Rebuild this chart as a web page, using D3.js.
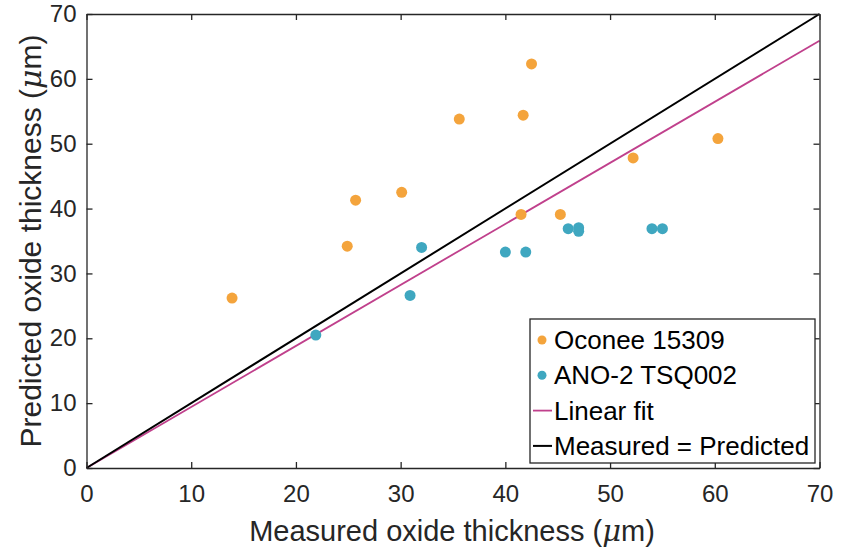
<!DOCTYPE html>
<html>
  <head>
    <meta charset="utf-8">
    <title>Oxide thickness</title>
    <script src="https://cdn.jsdelivr.net/npm/d3@7"></script>
    <style>
      body { margin: 0; background: #fff; }
      svg { font-family: "Liberation Sans", Arial, sans-serif; }
      .tick text { font-size: 24px; fill: #262626; }
    </style>
  </head>
  <body>
    <svg id="chart" width="842" height="550"></svg>

    <script>
      // data
      oconeeMeasured = [13.9, 24.9, 25.7, 30.1, 35.6, 41.7, 42.5, 41.5, 45.25, 52.2, 60.3];
      oconeePredicted = [26.2, 34.2, 41.3, 42.5, 53.8, 54.4, 62.3, 39.1, 39.1, 47.8, 50.8];
      anoMeasured = [21.9, 30.9, 32.0, 40.0, 41.95, 46.0, 47.0, 47.0, 54.0, 55.0];
      anoPredicted = [20.5, 26.6, 34.0, 33.3, 33.3, 36.9, 37.05, 36.5, 36.9, 36.9];
      fitSlope = 0.941;
      tickValues = [0, 10, 20, 30, 40, 50, 60, 70];
      legendLabels = ["Oconee 15309", "ANO-2 TSQ002", "Linear fit", "Measured = Predicted"];

      colours = { oconee: "#f4a43c", ano: "#3fa7c0", fit: "#c0408c", ideal: "#000000", axis: "#262626" };

      margin = { top: 14, right: 22.5, bottom: 82, left: 86.5 };
      width = 842;
      height = 550;

      chart = d3.select("#chart");

      x = d3.scaleLinear().domain([0, 70]).range([margin.left, width - margin.right]);
      y = d3.scaleLinear().domain([0, 70]).range([height - margin.bottom, margin.top]);

      // lines
      lineGen = d3.line()
        .x(function(d) { return x(d[0]); })
        .y(function(d) { return y(d[1]); });

      chart.append("path")
        .datum([[0, 0], [70, 70 * fitSlope]])
        .attr("d", lineGen)
        .attr("fill", "none")
        .attr("stroke", colours.fit)
        .attr("stroke-width", 1.8);

      chart.append("path")
        .datum([[0, 0], [70, 70]])
        .attr("d", lineGen)
        .attr("fill", "none")
        .attr("stroke", colours.ideal)
        .attr("stroke-width", 2);

      // points
      function drawPoints(xs, ys, colour) {
        chart.append("g").selectAll("circle")
            .data(xs.map(function(v, i) { return [v, ys[i]]; }))
          .enter().append("circle")
            .attr("cx", function(d) { return x(d[0]); })
            .attr("cy", function(d) { return y(d[1]); })
            .attr("r", 5.5)
            .attr("fill", colour);
      }
      drawPoints(oconeeMeasured, oconeePredicted, colours.oconee);
      drawPoints(anoMeasured, anoPredicted, colours.ano);

      // axes (ticks inward, box on)
      function styleAxis(g) {
        g.selectAll(".domain").attr("stroke", colours.axis).attr("stroke-width", 1.3);
        g.selectAll(".tick line").attr("stroke", colours.axis).attr("stroke-width", 1.3);
      }

      chart.append("g")
        .attr("transform", "translate(0," + y(0) + ")")
        .call(d3.axisBottom(x).tickValues(tickValues).tickSizeInner(-6).tickSizeOuter(0).tickPadding(17))
        .call(styleAxis);
      chart.append("g")
        .attr("transform", "translate(0," + y(70) + ")")
        .call(d3.axisTop(x).tickValues(tickValues).tickSizeInner(-6).tickSizeOuter(0).tickFormat(""))
        .call(styleAxis);
      chart.append("g")
        .attr("transform", "translate(" + x(0) + ",0)")
        .call(d3.axisLeft(y).tickValues(tickValues).tickSizeInner(-6).tickSizeOuter(0).tickPadding(10))
        .call(styleAxis);
      chart.append("g")
        .attr("transform", "translate(" + x(70) + ",0)")
        .call(d3.axisRight(y).tickValues(tickValues).tickSizeInner(-6).tickSizeOuter(0).tickFormat(""))
        .call(styleAxis);

      // axis titles
      xTitle = chart.append("text")
        .attr("x", 452)
        .attr("y", 541)
        .attr("text-anchor", "middle")
        .attr("font-size", 29)
        .attr("fill", colours.axis);
      xTitle.append("tspan").text("Measured oxide thickness (");
      xTitle.append("tspan").attr("font-family", "DejaVu Serif").attr("font-style", "italic").text("μ");
      xTitle.append("tspan").text("m)");

      yTitle = chart.append("text")
        .attr("transform", "translate(41,241) rotate(-90)")
        .attr("text-anchor", "middle")
        .attr("font-size", 30)
        .attr("fill", colours.axis);
      yTitle.append("tspan").text("Predicted oxide thickness (");
      yTitle.append("tspan").attr("font-family", "DejaVu Serif").attr("font-style", "italic").text("μ");
      yTitle.append("tspan").text("m)");

      // legend
      legend = chart.append("g").attr("transform", "translate(530,319)");
      legend.append("rect")
        .attr("width", 285)
        .attr("height", 144)
        .attr("fill", "#fff")
        .attr("stroke", colours.axis)
        .attr("stroke-width", 1.3);

      legendRows = legend.selectAll(".row")
          .data(legendLabels)
        .enter().append("g")
          .classed("row", true)
          .attr("transform", function(d, i) { return "translate(0," + (21 + i * 35.3) + ")"; });

      legendRows.each(function(d, i) {
        let row = d3.select(this);
        if (i < 2) {
          row.append("circle")
            .attr("cx", 12)
            .attr("r", 4.5)
            .attr("fill", i === 0 ? colours.oconee : colours.ano);
        } else {
          row.append("line")
            .attr("x1", 3).attr("x2", 22)
            .attr("stroke", i === 2 ? colours.fit : colours.ideal)
            .attr("stroke-width", i === 2 ? 1.8 : 2);
        }
        row.append("text")
          .attr("x", 24)
          .attr("dy", "0.35em")
          .attr("font-size", 26)
          .attr("fill", "#000")
          .text(d);
      });
    </script>
  </body>
</html>
